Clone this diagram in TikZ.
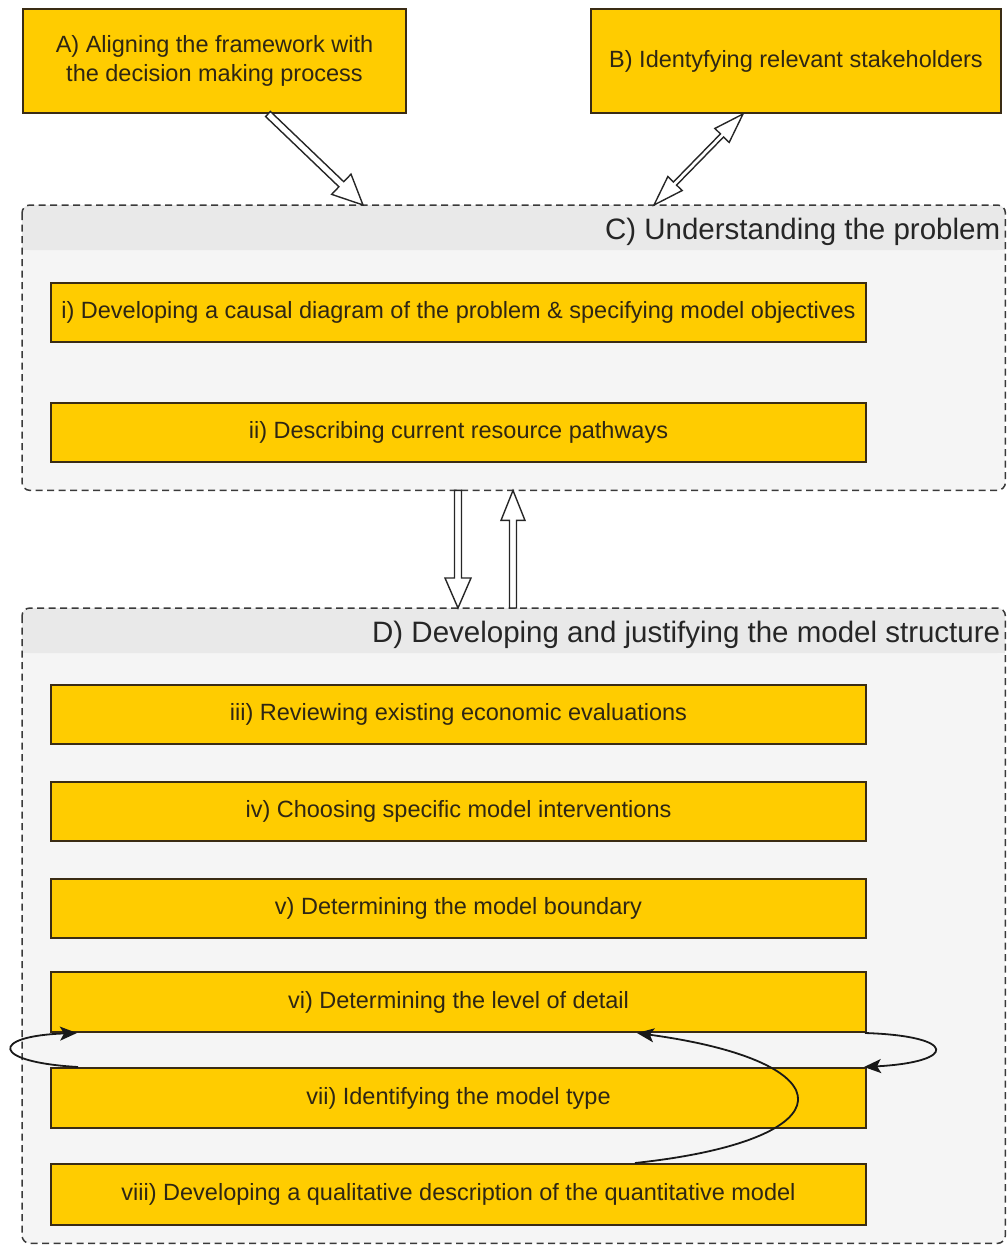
\documentclass[tikz,border=0pt]{standalone}
\usepackage{fontspec}
\setmainfont{Liberation Sans}
\usetikzlibrary{calc,arrows.meta}

\definecolor{boxfill}{HTML}{FFCC00}
\definecolor{boxline}{HTML}{3A2C14}
\definecolor{txt}{HTML}{2E2614}
\definecolor{titletxt}{HTML}{262626}
\definecolor{grpbody}{HTML}{F5F5F5}
\definecolor{grphead}{HTML}{E9E9E9}
\definecolor{grpline}{HTML}{3A3A3A}

% hollow block arrow: start, end, shaft half width, head half width, head length
\newcommand{\hollowarrow}[5]{%
  \draw[hollow] let \p1=(#1), \p2=(#2), \n1={atan2(\y2-\y1,\x2-\x1)} in
    ($(\p1)+(\n1+90:#3)$)
    -- ($(\p2)+(\n1+180:#5)+(\n1+90:#3)$)
    -- ($(\p2)+(\n1+180:#5)+(\n1+90:#4)$)
    -- (\p2)
    -- ($(\p2)+(\n1+180:#5)+(\n1-90:#4)$)
    -- ($(\p2)+(\n1+180:#5)+(\n1-90:#3)$)
    -- ($(\p1)+(\n1-90:#3)$) -- cycle;}

% hollow block arrow with a head at both ends
\newcommand{\hollowtwoway}[5]{%
  \draw[hollow] let \p1=(#1), \p2=(#2), \n1={atan2(\y2-\y1,\x2-\x1)} in
    ($(\p1)+(\n1:#5)+(\n1+90:#3)$)
    -- ($(\p2)+(\n1+180:#5)+(\n1+90:#3)$)
    -- ($(\p2)+(\n1+180:#5)+(\n1+90:#4)$)
    -- (\p2)
    -- ($(\p2)+(\n1+180:#5)+(\n1-90:#4)$)
    -- ($(\p2)+(\n1+180:#5)+(\n1-90:#3)$)
    -- ($(\p1)+(\n1:#5)+(\n1-90:#3)$)
    -- ($(\p1)+(\n1:#5)+(\n1-90:#4)$)
    -- (\p1)
    -- ($(\p1)+(\n1:#5)+(\n1+90:#4)$) -- cycle;}

\begin{document}
\begin{tikzpicture}[x=1pt,y=-1pt,
  topbox/.style={draw=boxline, line width=2pt, fill=boxfill, text=txt,
    inner sep=0pt, anchor=north west, align=center,
    font=\fontsize{23.5}{29}\selectfont},
  stepbox/.style={topbox, minimum width=815, minimum height=59},
  group/.style={fill=grpbody, rounded corners=8pt, inner sep=0pt,
    anchor=north west, minimum width=983},
  grpborder/.style={draw=grpline, line width=1.5pt, dash pattern=on 7pt off 4.5pt,
    rounded corners=8pt},
  grptitle/.style={text=titletxt, anchor=east, inner sep=0pt,
    font=\fontsize{29.5}{34}\selectfont},
  hollow/.style={draw=black!85, fill=white, line width=1.4pt, line join=miter},
  loop/.style={draw=black!90, line width=1.8pt,
    -{Stealth[length=17pt,width=14pt,inset=4pt]}}
]
\useasboundingbox (0,0) rectangle (1008,1252);

% top-level activities
\node[topbox, minimum width=383, minimum height=104] (A) at (22,8)
  {A) Aligning the framework with\\ the decision making process};
\node[topbox, minimum width=410, minimum height=104] (B) at (590,8)
  {B) Identyfying relevant stakeholders};

% group C
\node[group, minimum height=285] (C) at (22,205) {};
\fill[grphead, rounded corners=8pt] (C.north west) rectangle ($(C.north east)+(0,45)$);
\fill[grphead] ($(C.north west)+(0,20)$) rectangle ($(C.north east)+(0,45)$);
\draw[grpborder] (C.north west) rectangle (C.south east);
\node[grptitle] (Ct) at ($(C.north east)+(-5,27)$) {C) Understanding the problem};

\node[stepbox] (s1) at (50,282)
  {i) Developing a causal diagram of the problem \& specifying model objectives};
\node[stepbox] (s2) at (50,402) {ii) Describing current resource pathways};

% group D
\node[group, minimum height=635] (D) at (22,608) {};
\fill[grphead, rounded corners=8pt] (D.north west) rectangle ($(D.north east)+(0,45)$);
\fill[grphead] ($(D.north west)+(0,20)$) rectangle ($(D.north east)+(0,45)$);
\draw[grpborder] (D.north west) rectangle (D.south east);
\node[grptitle] (Dt) at ($(D.north east)+(-5,27)$) {D) Developing and justifying the model structure};

\node[stepbox] (s3) at (50,684) {iii) Reviewing existing economic evaluations};
\node[stepbox] (s4) at (50,781) {iv) Choosing specific model interventions};
\node[stepbox] (s5) at (50,878) {v) Determining the model boundary};
\node[stepbox, minimum height=60] (s6) at (50,971) {vi) Determining the level of detail};
\node[stepbox, minimum height=60] (s7) at (50,1067) {vii) Identifying the model type};
\node[stepbox, minimum height=61] (s8) at (50,1163)
  {viii) Developing a qualitative description of the quantitative model};

% block arrows between activities
\coordinate (a1) at ($(A.south west)+(246,0)$);
\coordinate (c1) at ($(C.north west)+(341,0)$);
\coordinate (b1) at ($(B.south west)+(153,0)$);
\coordinate (c2) at ($(C.north west)+(632,0)$);
\coordinate (c3) at ($(C.south west)+(436,0)$);
\coordinate (d1) at ($(D.north west)+(436,0)$);
\coordinate (d2) at ($(D.north west)+(491,0)$);
\coordinate (c4) at ($(C.south west)+(491,0)$);

\hollowarrow{a1}{c1}{3.5pt}{14pt}{30pt}
\hollowtwoway{b1}{c2}{2.2pt}{10pt}{30pt}
\hollowarrow{c3}{d1}{3.5pt}{13pt}{30pt}
\hollowarrow{d2}{c4}{3.5pt}{12pt}{30pt}

% feedback loops between steps vi, vii and viii
\draw[loop] ($(s7.north west)+(28,0)$)
  .. controls (-10,1062) and (-10,1036) .. ($(s6.south west)+(27,0)$);
\draw[loop] ($(s6.south east)+(-2,0)$)
  .. controls (958,1036) and (958,1062) .. ($(s7.north east)+(-3,0)$);
\draw[loop] ($(s8.north west)+(585,0)$)
  .. controls (850,1140) and (850,1062) .. ($(s6.south west)+(587,0)$);
\end{tikzpicture}
\end{document}
